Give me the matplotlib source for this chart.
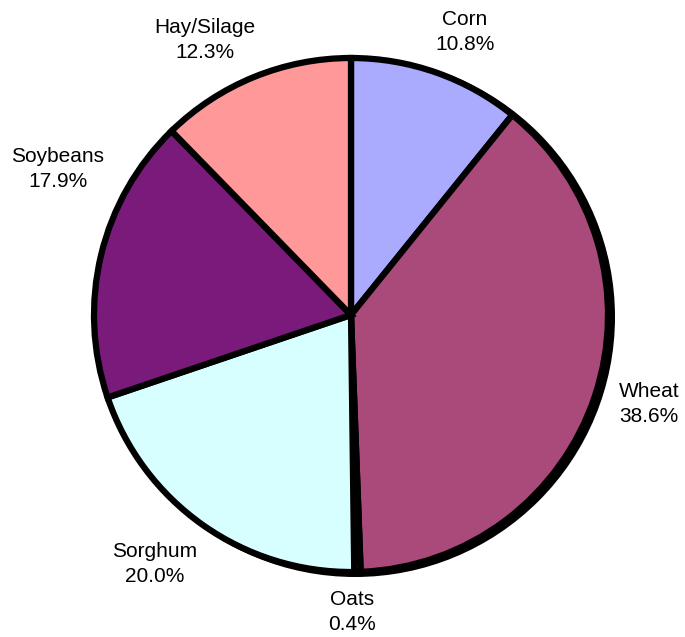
import matplotlib.pyplot as plt
import matplotlib as mpl
from matplotlib.patches import Circle

mpl.rc('font', family=['Liberation Sans', 'DejaVu Sans'])

crops = ['Corn', 'Wheat', 'Oats', 'Sorghum', 'Soybeans', 'Hay/Silage']
shares = [10.8, 38.6, 0.4, 20.0, 17.9, 12.3]
colors = ['#AAAAFF', '#AA4A7A', '#FFFFCC', '#D8FFFF', '#7A1A7A', '#FF9999']

# label anchor points in figure pixels (x, y measured up from the bottom)
label_pos = [(465, 605), (649, 233), (352, 25), (155, 73), (58, 468), (205, 597)]

W, H = 685, 637
center = (351, 322)
radius = 257

fig = plt.figure(figsize=(W / 100, H / 100), dpi=100)
ax = fig.add_axes([0, 0, 1, 1])

# drop shadow behind the pie
ax.add_patch(Circle((center[0] + 4, center[1] - 2), radius + 3,
                    facecolor='black', edgecolor='none', zorder=1))

ax.pie(shares,
       colors=colors,
       startangle=90,
       counterclock=False,
       center=center,
       radius=radius,
       frame=True,
       wedgeprops=dict(edgecolor='black', linewidth=4.5, zorder=2))

ax.set_xlim(0, W)
ax.set_ylim(0, H)
ax.set_aspect('auto')
ax.axis('off')

for crop, share, (x, y) in zip(crops, shares, label_pos):
    ax.text(x, y, f'{crop}\n{share:.1f}%',
            ha='center', va='center', multialignment='center',
            fontsize=15, linespacing=1.45, color='black')

fig.savefig('out.png', dpi=100)
